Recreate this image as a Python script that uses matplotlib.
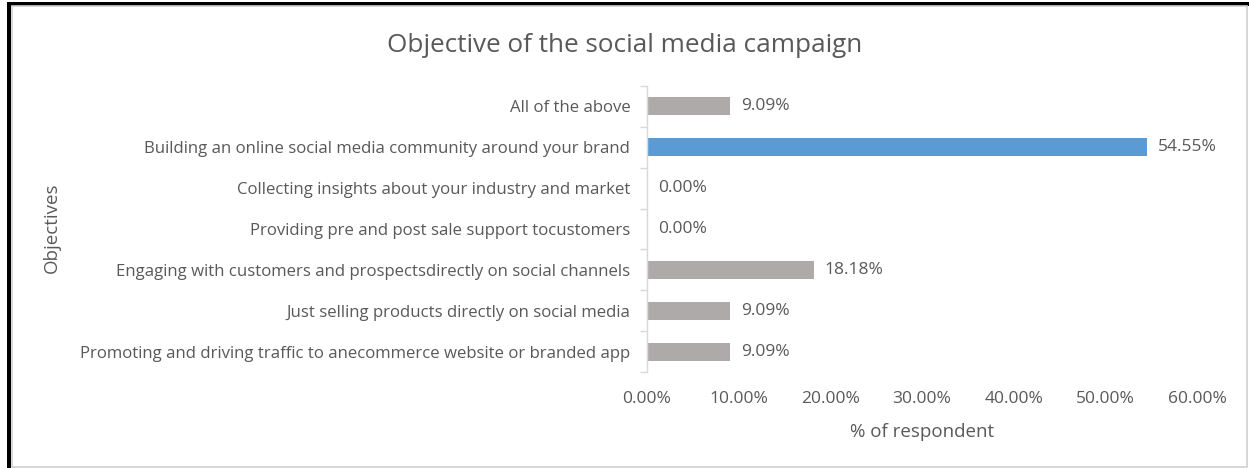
import matplotlib.pyplot as plt
from matplotlib.patches import Rectangle
from matplotlib.ticker import FuncFormatter, FixedLocator

# survey results, listed bottom to top as they appear on the chart
objectives = [
    "Promoting and driving traffic to anecommerce website or branded app",
    "Just selling products directly on social media",
    "Engaging with customers and prospectsdirectly on social channels",
    "Providing pre and post sale support tocustomers",
    "Collecting insights about your industry and market",
    "Building an online social media community around your brand",
    "All of the above",
]
share = [9.09, 9.09, 18.18, 0.00, 0.00, 54.55, 9.09]
highlight = "Building an online social media community around your brand"
x_ticks = [0, 10, 20, 30, 40, 50, 60]

TEXT = "#595959"
GRAY = "#AEAAAA"
BLUE = "#5B9BD5"
AXIS = "#D9D9D9"

plt.rcParams["font.family"] = ["Open Sans", "DejaVu Sans"]

W, H = 1249, 468
fig = plt.figure(figsize=(W / 100, H / 100), dpi=100)
fig.patch.set_facecolor("white")

# frame: black top and left edges, light grey chart border
fig.add_artist(Rectangle((7 / W, 1 - 6 / H), 1 - 7 / W, 4 / H, transform=fig.transFigure,
                         facecolor="black", edgecolor="none"))
fig.add_artist(Rectangle((7 / W, 0), 4 / W, 1 - 2 / H, transform=fig.transFigure,
                         facecolor="black", edgecolor="none"))
fig.add_artist(Rectangle((11.5 / W, 1.5 / H), (1247 - 11.5) / W, 1 - 7.5 / H,
                         transform=fig.transFigure, facecolor="none",
                         edgecolor="#D0D0D0", linewidth=1.2))

ax = fig.add_axes([647 / W, 1 - 372 / H, 550 / W, 286 / H])
ypos = range(len(objectives))
colors = [BLUE if o == highlight else GRAY for o in objectives]
ax.barh(ypos, share, height=0.44, color=colors)

for y, v in zip(ypos, share):
    ax.text(v + 1.2, y, f"{v:.2f}%", va="center", ha="left", fontsize=12.5, color=TEXT)

ax.set_xlim(0, 60)
ax.set_ylim(-0.5, len(objectives) - 0.5)
ax.set_xticks(x_ticks)
ax.xaxis.set_major_formatter(FuncFormatter(lambda v, _: f"{v:.2f}%"))
ax.tick_params(axis="x", length=0, pad=14, labelsize=12.5, labelcolor=TEXT)

ax.set_yticks(list(ypos))
ax.set_yticklabels(objectives)
ax.yaxis.set_minor_locator(FixedLocator([i - 0.5 for i in range(len(objectives) + 1)]))
ax.tick_params(axis="y", which="major", length=0, pad=12, labelsize=12.1, labelcolor=TEXT)
ax.tick_params(axis="y", which="minor", length=5, width=1, color=AXIS)

for side in ("top", "right", "bottom"):
    ax.spines[side].set_visible(False)
ax.spines["left"].set_color(AXIS)
ax.spines["left"].set_linewidth(1)

ax.set_xlabel("% of respondent", fontsize=13.5, color=TEXT, labelpad=11)
fig.text(52 / W, 1 - 228 / H, "Objectives", rotation=90, ha="center", va="center",
         fontsize=13.5, color=TEXT)
fig.text(0.5, 1 - 45 / H, "Objective of the social media campaign", ha="center",
         va="center", fontsize=18.8, color=TEXT)

fig.savefig("out.png", dpi=100, facecolor="white")
